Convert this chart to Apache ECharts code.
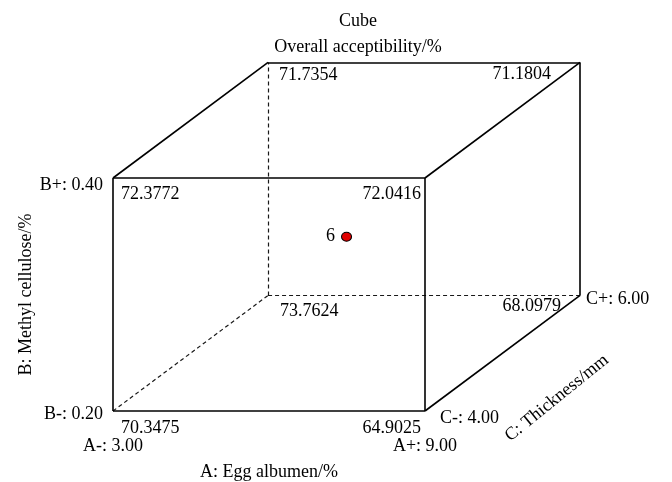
<!DOCTYPE html>
<html><head><meta charset="utf-8">
<script src="https://cdn.jsdelivr.net/npm/echarts@6/dist/echarts.min.js"></script>
<style>html,body{margin:0;padding:0;background:#fff}#c{width:672px;height:482px}</style>
</head><body><div id="c"></div>
<script>
// ---- data ----
const titleText = 'Cube';
const responseName = 'Overall acceptibility/%';
const factorNames = ['A: Egg albumen/%', 'B: Methyl cellulose/%', 'C: Thickness/mm'];
const levelsA = ['A-: 3.00', 'A+: 9.00'];
const levelsB = ['B-: 0.20', 'B+: 0.40'];
const levelsC = ['C-: 4.00', 'C+: 6.00'];
const cornerA = [-1, 1, -1, 1, -1, 1, -1, 1];
const cornerB = [-1, -1, 1, 1, -1, -1, 1, 1];
const cornerC = [-1, -1, -1, -1, 1, 1, 1, 1];
const cornerValues = [70.3475, 64.9025, 72.3772, 72.0416, 73.7624, 68.0979, 71.7354, 71.1804];
const centerRuns = 6;

// ---- styling / projection ----
const FONT = "'Liberation Serif', 'Times New Roman', serif";
const FS = 18;
const INK = '#000';
const DX = 0.497, DY = 0.496; // oblique depth per unit of C
function proj(a, b, c) { return [a + DX * (c + 1), b + DY * (c + 1)]; }
const labelOffsets = [[8, 17], [-4, 17], [8, 16], [-4, 16], [12, 16], [-19, 11], [11, 13], [-29, 12]];

// edges
const edges = [];
for (let i = 0; i < 8; i++) for (let j = i + 1; j < 8; j++) {
  const d = (cornerA[i] !== cornerA[j]) + (cornerB[i] !== cornerB[j]) + (cornerC[i] !== cornerC[j]);
  if (d === 1) {
    const hidden = (i === 4 || j === 4);
    edges.push({
      coords: [proj(cornerA[i], cornerB[i], cornerC[i]), proj(cornerA[j], cornerB[j], cornerC[j])],
      lineStyle: hidden ? { type: [4, 3], width: 1.2, color: INK, opacity: 0.9 } : { type: 'solid', width: 1.6, color: INK, opacity: 1 }
    });
  }
}

const lbl = (text, align, offset, extra) => Object.assign({
  show: true, formatter: text, position: 'inside', align: align, verticalAlign: 'middle', offset: offset,
  textBorderWidth: 0
}, extra || {});

const cornerData = cornerValues.map((v, i) => ({
  value: proj(cornerA[i], cornerB[i], cornerC[i]),
  label: lbl(v.toFixed(4), cornerA[i] < 0 ? 'left' : 'right', labelOffsets[i])
}));

const levelData = [
  { value: proj(-1, -1, -1), label: lbl(levelsB[0], 'right', [-10, 3]) },
  { value: proj(-1, 1, -1), label: lbl(levelsB[1], 'right', [-10, 7]) },
  { value: proj(1, -1, -1), label: lbl(levelsC[0], 'left', [15, 7]) },
  { value: proj(1, -1, 1), label: lbl(levelsC[1], 'left', [6, 4]) },
  { value: proj(1, -1, 0), label: lbl(factorNames[2], 'center', [14, 69], { rotate: 39 }) }
];

const labelBase = { fontFamily: FONT, fontSize: FS, color: INK, textBorderWidth: 0 };

const chart = echarts.init(document.getElementById('c'), null, { renderer: 'canvas' });
chart.setOption({
  backgroundColor: '#fff',
  animation: false,
  textStyle: { fontFamily: FONT },
  title: [
    { text: titleText, left: 358, top: 12, textAlign: 'center', padding: 0,
      textStyle: { fontFamily: FONT, fontSize: FS, fontWeight: 'normal', color: INK } },
    { text: responseName, left: 358, top: 38, textAlign: 'center', padding: 0,
      textStyle: { fontFamily: FONT, fontSize: FS, fontWeight: 'normal', color: INK } }
  ],
  grid: { left: 113, top: 178, width: 312, height: 234, containLabel: false },
  xAxis: {
    type: 'value', min: -1, max: 1, interval: 2,
    name: factorNames[0], nameLocation: 'middle', nameGap: 52,
    nameTextStyle: { fontFamily: FONT, fontSize: FS, color: INK },
    axisLine: { show: false }, axisTick: { show: false }, splitLine: { show: false },
    axisLabel: { margin: 26, fontFamily: FONT, fontSize: FS, color: INK,
      formatter: v => (v < 0 ? levelsA[0] : levelsA[1]) }
  },
  yAxis: {
    type: 'value', min: -1, max: 1, interval: 2,
    name: factorNames[1], nameLocation: 'middle', nameGap: 78,
    nameTextStyle: { fontFamily: FONT, fontSize: FS, color: INK },
    axisLine: { show: false }, axisTick: { show: false }, splitLine: { show: false },
    axisLabel: { show: false }
  },
  series: [
    { type: 'lines', coordinateSystem: 'cartesian2d', clip: false, silent: true, z: 2, data: edges },
    { type: 'scatter', clip: false, silent: true, symbolSize: 1, itemStyle: { color: 'rgba(0,0,0,0)', opacity: 1 },
      label: labelBase, data: cornerData, z: 3 },
    { type: 'scatter', clip: false, silent: true, symbolSize: 1, itemStyle: { color: 'rgba(0,0,0,0)', opacity: 1 },
      label: labelBase, data: levelData, z: 3 },
    { type: 'scatter', clip: false, silent: true, symbol: 'circle', symbolSize: [10, 9],
      itemStyle: { color: '#e00000', borderColor: INK, borderWidth: 1, opacity: 1 },
      label: Object.assign({ show: true, position: 'left', distance: 6, formatter: String(centerRuns) }, labelBase),
      data: [proj(0, 0, 0)], z: 4 }
  ]
});
</script></body></html>
